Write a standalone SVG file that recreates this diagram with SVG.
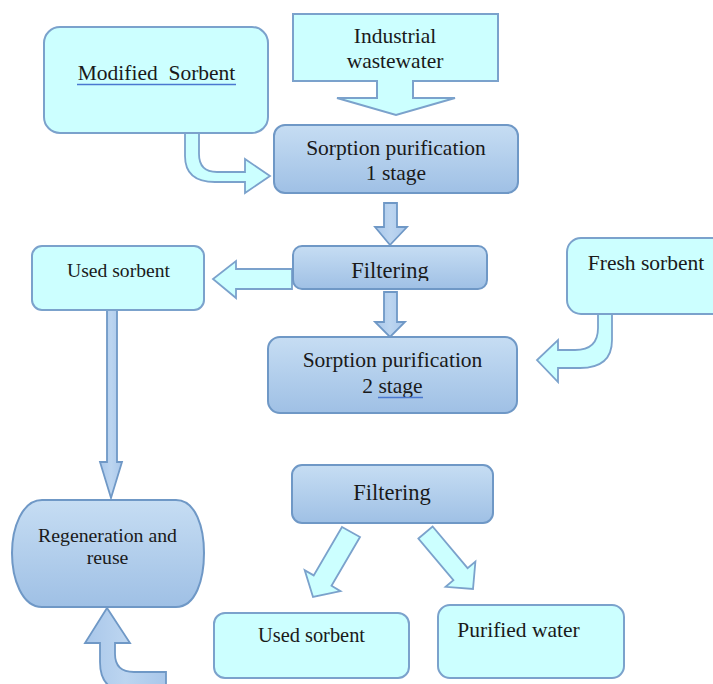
<svg xmlns="http://www.w3.org/2000/svg" width="713" height="684" viewBox="0 0 713 684">
<defs>
<linearGradient id="bg" x1="0" y1="0" x2="0" y2="1">
<stop offset="0" stop-color="#c6ddf3"/>
<stop offset="1" stop-color="#9fc0e5"/>
</linearGradient>
<linearGradient id="ag" x1="0" y1="0" x2="1" y2="0">
<stop offset="0" stop-color="#a9c7ea"/>
<stop offset="0.5" stop-color="#bcd5f0"/>
<stop offset="1" stop-color="#a9c7ea"/>
</linearGradient>
<clipPath id="clipF"><rect x="293" y="246" width="194" height="35"/></clipPath>
</defs>
<style>
.cy{fill:#ccffff;stroke:#7ba2cc;stroke-width:2}
.bl{fill:url(#bg);stroke:#6f98c6;stroke-width:2}
.ba{fill:url(#ag);stroke:#6f98c6;stroke-width:1.8}
.ca{fill:#ccffff;stroke:#7ba2cc;stroke-width:1.8}
text{font-family:"Liberation Serif","Times New Roman",serif;fill:#1a1a1a;text-anchor:middle}
.ul{stroke:#4a78d0;stroke-width:1.6}
</style>
<g id="connectors">
<path class="ca" d="M185,133 L185,156 Q185,182 215,182 L245,182 L245,193 L270,176 L245,159 L245,172 L217,172 Q199,172 199,154 L199,133 Z"/>
<path class="ba" d="M384,203 L397,203 L397,227 L407,227 L390,245 L375,227 L384,227 Z"/>
<path class="ca" d="M292,269 L236,269 L236,261 L213,279 L236,298 L236,289 L292,289 Z"/>
<path class="ba" d="M384,292 L397,292 L397,322 L405,322 L390,337 L375,322 L384,322 Z"/>
<path class="ca" d="M598,313 L598,328 Q598,350 575,350 L558,350 L558,340 L537,360 L558,382 L558,368 L580,368 Q612,368 612,340 L612,313 Z"/>
<path class="ba" d="M107,307 L117,307 L117,462 L122,462 L111,498 L100,462 L107,462 Z"/>
<path class="ba" d="M100,643 L100,662 Q100,692 130,692 L166,692 L166,672 L134,672 Q115,672 115,654 L115,643 L130,643 L107,608 L85,643 Z"/>
<polygon class="ca" points="342,527 360,537 331.5,585.8 340.5,591.1 313,597 304.7,570.1 313.7,575.4"/>
<polygon class="ca" points="418.4,538.5 432.6,526.5 467.6,568.2 475.4,561.6 473,589 445.6,586.8 453.4,580.2"/>
</g>
<g id="modified-sorbent">
<rect class="cy" x="44" y="27" width="224" height="106" rx="16"/>
<text x="156.5" y="80" font-size="21.5">Modified&#160; Sorbent</text>
<line class="ul" x1="77" y1="84.5" x2="236" y2="84.5"/>
</g>
<g id="industrial-wastewater">
<path class="cy" d="M293,14 L498,14 L498,81 L413,81 L413,98 L455,98 L396,115 L337,98 L377,98 L377,81 L293,81 Z"/>
<text x="395" y="43" font-size="21.5">Industrial</text>
<text x="395" y="68" font-size="21.5">wastewater</text>
</g>
<g id="sorption-1">
<rect class="bl" x="274" y="125" width="244" height="68" rx="11"/>
<text x="396" y="155" font-size="21.5">Sorption purification</text>
<text x="396" y="180" font-size="21.5">1 stage</text>
</g>
<g id="filtering-1">
<rect class="bl" x="293" y="246" width="194" height="43" rx="9"/>
<text x="390" y="278" font-size="22.5" clip-path="url(#clipF)">Filtering</text>
</g>
<g id="used-sorbent-1">
<rect class="cy" x="32" y="246" width="172" height="64" rx="10"/>
<text x="118.5" y="277" font-size="19.6">Used sorbent</text>
</g>
<g id="fresh-sorbent">
<rect class="cy" x="567" y="238" width="160" height="76" rx="14"/>
<text x="646" y="270" font-size="21.5">Fresh sorbent</text>
</g>
<g id="sorption-2">
<rect class="bl" x="268" y="337" width="249" height="76" rx="12"/>
<text x="392.5" y="367" font-size="21.5">Sorption purification</text>
<text x="392.5" y="393" font-size="21.5">2 stage</text>
<line class="ul" x1="378" y1="397.5" x2="423" y2="397.5"/>
</g>
<g id="regeneration">
<path class="bl" d="M42,500 L176,500 C196,500 204,528 204,553 C204,579 196,607 176,607 L42,607 C22,607 12,579 12,553 C12,528 22,500 42,500 Z"/>
<text x="107.5" y="542" font-size="19.8">Regeneration and</text>
<text x="107.5" y="564" font-size="19.8">reuse</text>
</g>
<g id="filtering-2">
<rect class="bl" x="292" y="465" width="201" height="58" rx="10"/>
<text x="392" y="500" font-size="22.5">Filtering</text>
</g>
<g id="used-sorbent-2">
<rect class="cy" x="214" y="613" width="195" height="65" rx="11"/>
<text x="311.5" y="642" font-size="20.4">Used sorbent</text>
</g>
<g id="purified-water">
<rect class="cy" x="438" y="605" width="186" height="73" rx="12"/>
<text x="518.5" y="637" font-size="21.5">Purified water</text>
</g>
</svg>
